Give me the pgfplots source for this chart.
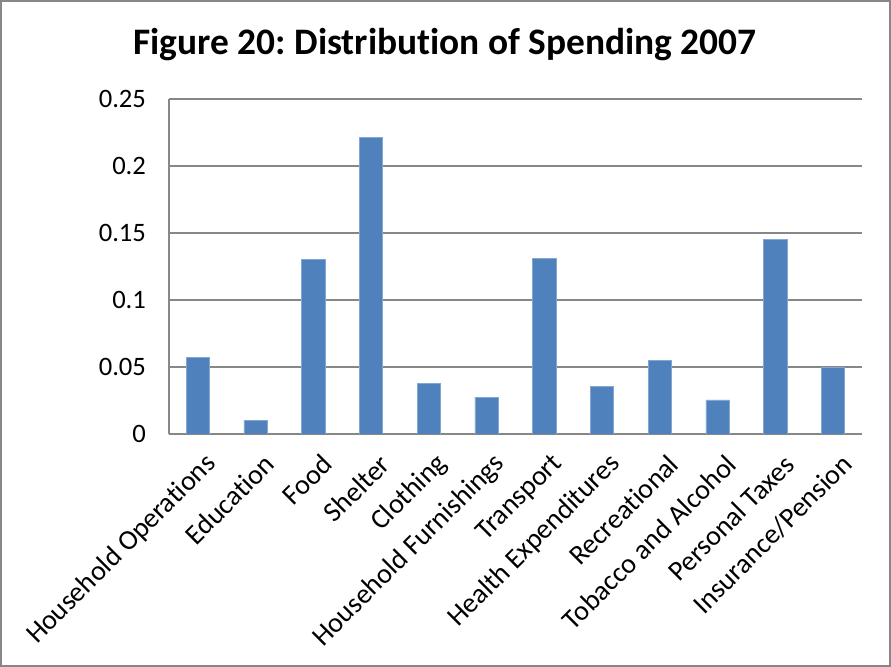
\documentclass[border=0pt]{standalone}
\usepackage{pgfplots}
\pgfplotsset{compat=1.18}
\usepackage{fontspec}
\setmainfont{Carlito}[RawFeature={-liga;-clig;-dlig}]
\frenchspacing
\definecolor{barblue}{HTML}{4F81BD}
\definecolor{gridgray}{HTML}{878787}
\begin{document}
\begin{tikzpicture}
\useasboundingbox (0,0) rectangle (445.5pt,333.5pt);
\draw[gridgray, line width=0.8pt] (0.5pt,0.5pt) rectangle (445pt,333pt);
\node[font=\fontsize{18.7pt}{22pt}\selectfont\bfseries] at (222.5pt,311pt) {Figure 20: Distribution of Spending 2007};
\begin{axis}[
  at={(84.5pt,116.5pt)}, anchor=south west,
  scale only axis, width=346.5pt, height=167.5pt,
  xmin=-0.5, xmax=11.5, ymin=0, ymax=0.25,
  axis x line=bottom, axis y line=left,
  axis line style={-, gridgray, line width=0.8pt},
  ymajorgrids, grid style={gridgray, line width=0.8pt},
  major tick length=0pt,
  ytick={0,0.05,0.1,0.15,0.2,0.25},
  yticklabels={0,0.05,0.1,0.15,0.2,0.25},
  xtick={0,...,11},
  xticklabels={Household Operations,Education,Food,Shelter,Clothing,Household Furnishings,Transport,Health Expenditures,Recreational,Tobacco and Alcohol,Personal Taxes,Insurance/Pension},
  yticklabel style={font=\fontsize{13.3pt}{15pt}\selectfont, anchor=east, xshift=-8pt},
  xticklabel style={font=\fontsize{14pt}{16pt}\selectfont, rotate=45, anchor=east, inner sep=1pt, xshift=-3pt, yshift=-14pt},
  /pgf/number format/assume math mode=true,
  ybar, bar width=11.65pt,
]
\addplot[fill=barblue, draw=barblue!70!white, line width=0.3pt] coordinates {
(0,0.0572) (1,0.0104) (2,0.130) (3,0.2213) (4,0.038) (5,0.0276)
(6,0.1313) (7,0.0358) (8,0.0549) (9,0.0254) (10,0.1452) (11,0.0497)};
\end{axis}
\end{tikzpicture}
\end{document}
